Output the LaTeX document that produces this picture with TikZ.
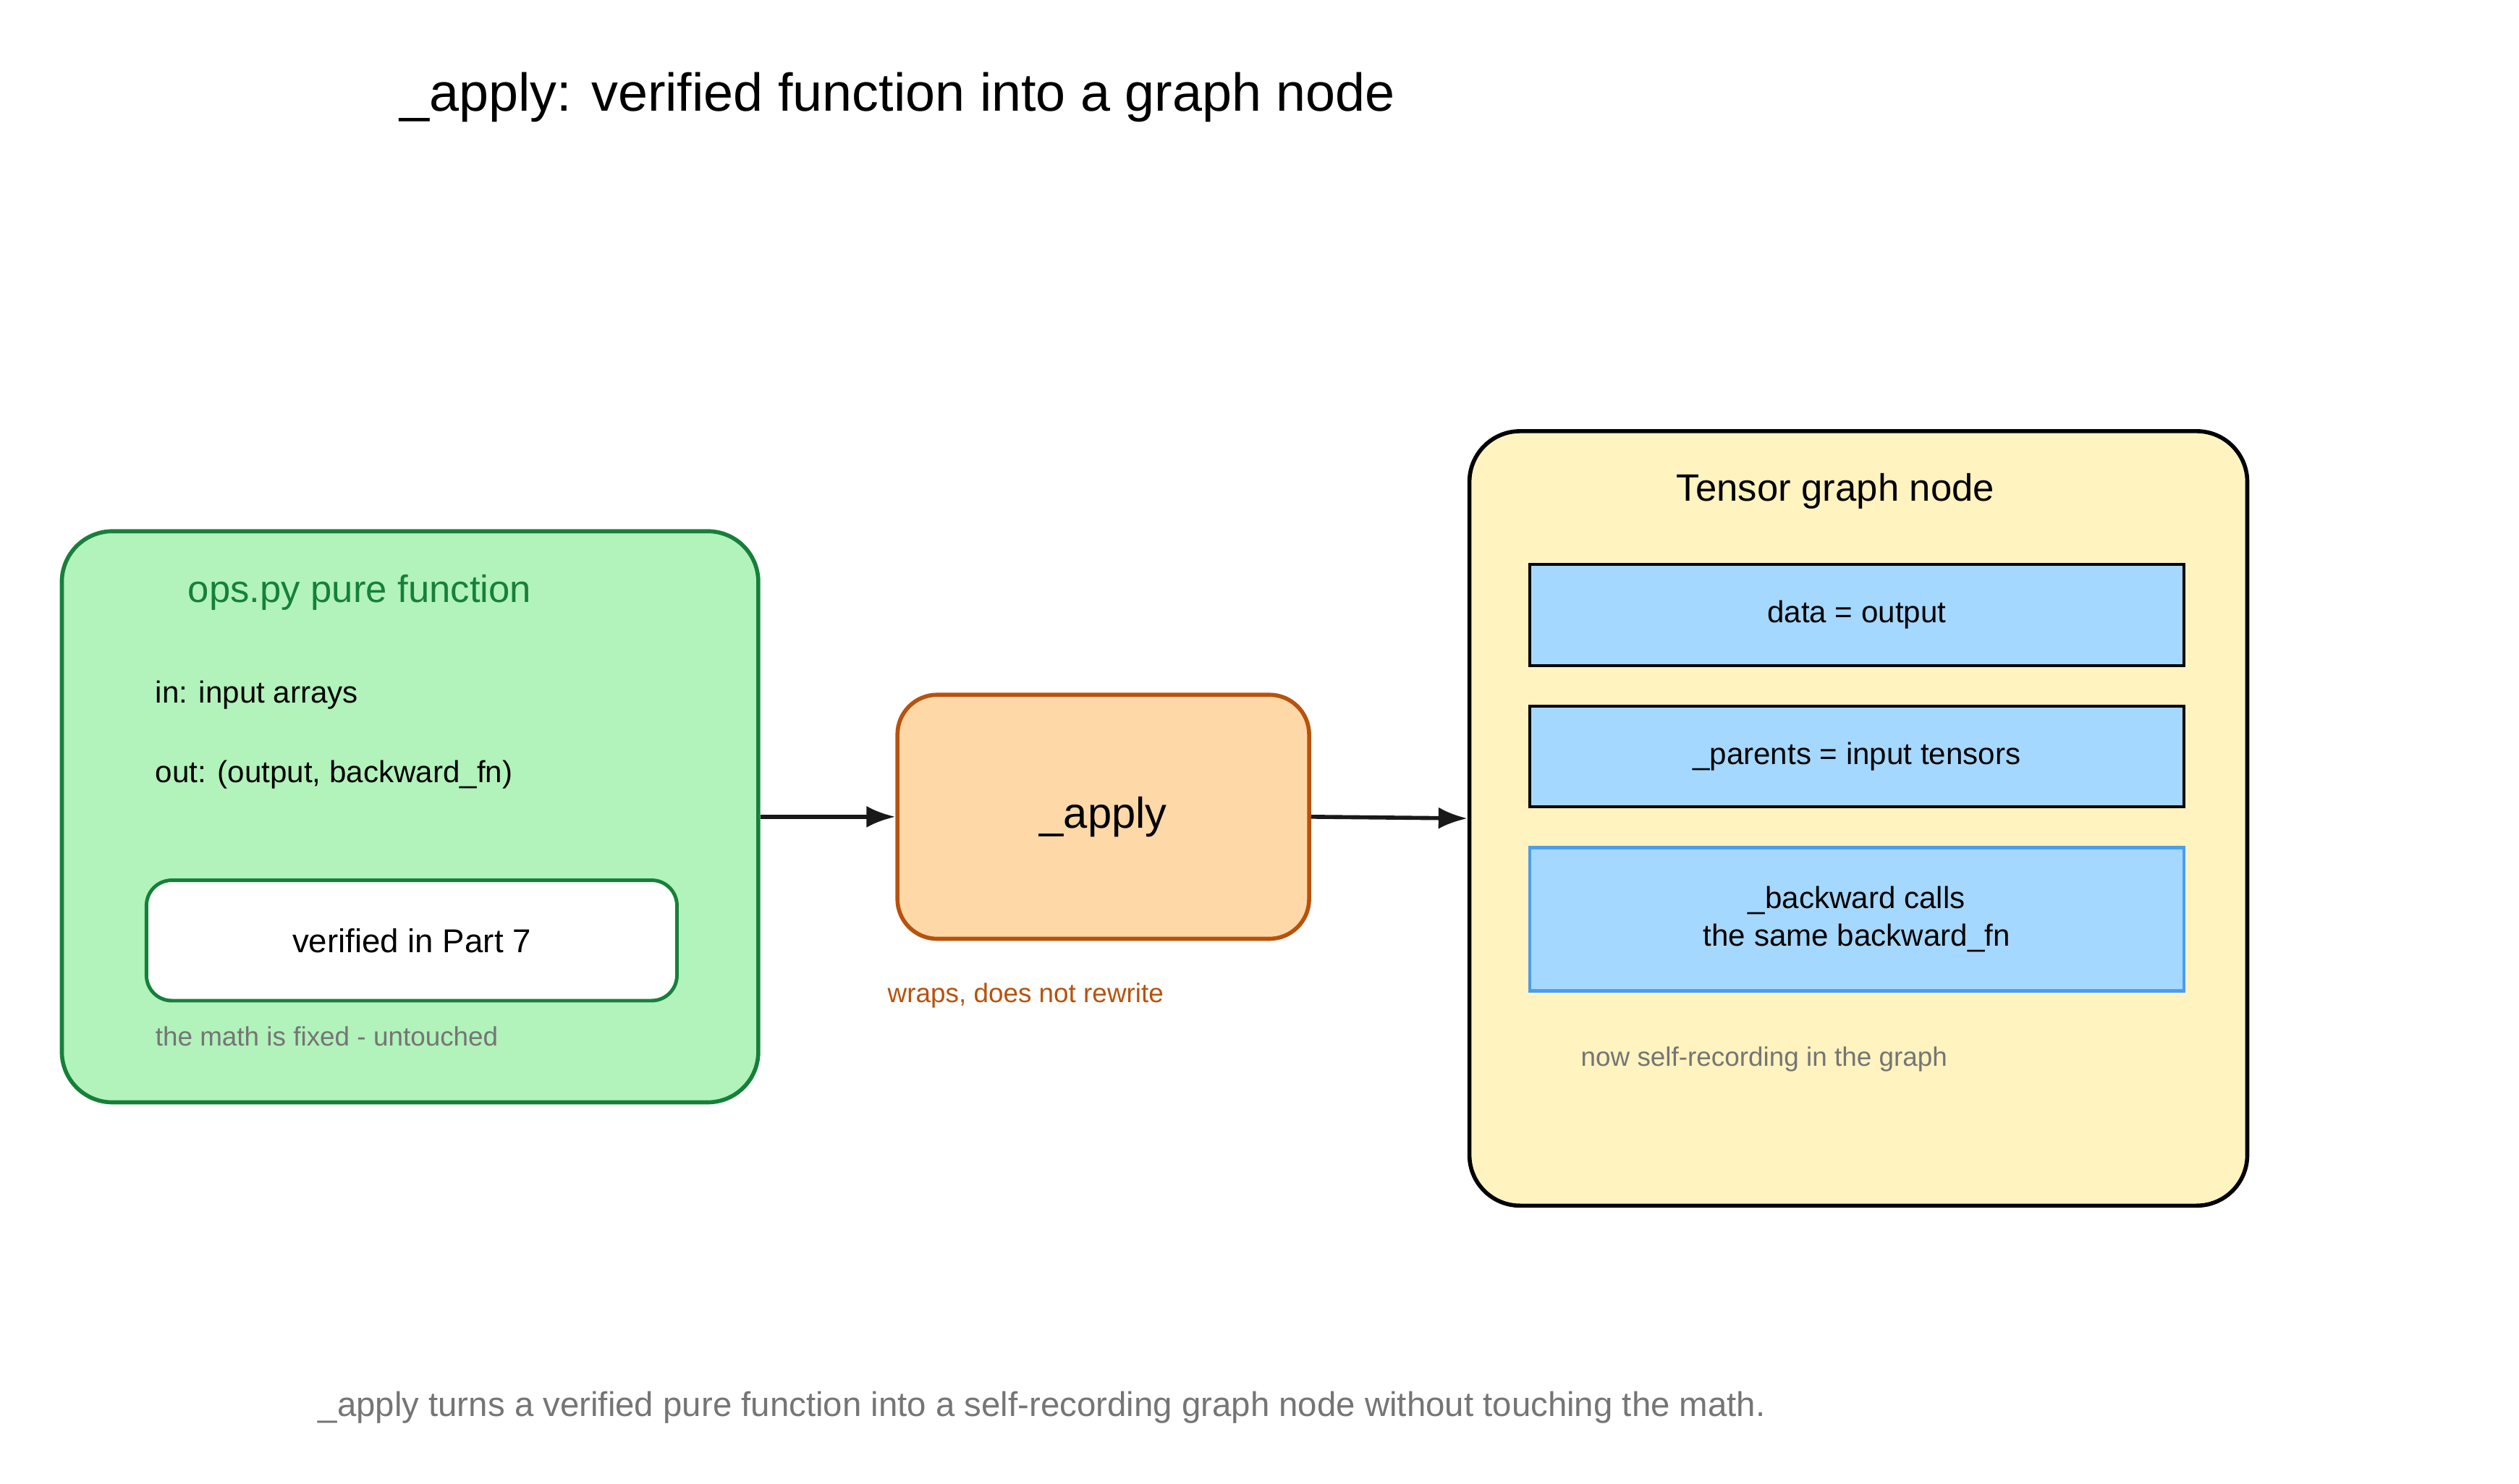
\documentclass[tikz,border=0pt]{standalone}
\usepackage{fontspec}
\setmainfont{Liberation Sans}
\usetikzlibrary{arrows.meta, positioning}
\definecolor{greenfill}{HTML}{B2F2BB}
\definecolor{greenline}{HTML}{16803A}
\definecolor{orangefill}{HTML}{FFD8A8}
\definecolor{orangeline}{HTML}{B8520C}
\definecolor{yellowfill}{HTML}{FFF3BF}
\definecolor{bluefill}{HTML}{A5D8FF}
\definecolor{blueline}{HTML}{4A9EED}
\definecolor{notegray}{HTML}{757575}
\tikzset{
    panel/.style={draw, line width=1.6pt, rounded corners=0.7cm},
    field/.style={draw, line width=1.2pt, fill=bluefill, minimum width=402*0.0225cm, minimum height=62*0.0225cm, font=\fontsize{12}{15}\selectfont, align=center},
    note/.style={anchor=west, text=notegray, font=\fontsize{10.5}{13}\selectfont},
    body/.style={anchor=west, font=\fontsize{12}{15}\selectfont},
    link/.style={-{Latex[length=4mm,width=3mm]}, line width=1.6pt, draw=black!90},
}

\begin{document}
\begin{tikzpicture}[x=0.0225cm, y=-0.0225cm]
    \useasboundingbox (0,0) rectangle (1548,912);

    \node[anchor=west, font=\fontsize{21}{25}\selectfont] (title) at (240,60) {\_apply: verified function into a graph node};

    % pure function
    \node[panel, draw=greenline, fill=greenfill, minimum width=428*0.0225cm, minimum height=351*0.0225cm] (ops) at (252,502) {};
    \node[text=greenline, font=\fontsize{15}{18}\selectfont] (opst) at (221,364) {ops.py pure function};
    \node[body] (in) at (90,427) {in: input arrays};
    \node[body] (out) at (90,476) {out: (output, backward\_fn)};
    \node[draw=greenline, line width=1.4pt, fill=white, rounded corners=0.35cm, minimum width=326*0.0225cm, minimum height=74*0.0225cm, font=\fontsize{13}{16}\selectfont] (ver) at (253,578) {verified in Part 7};
    \node[note] (fixed) at (90,637) {the math is fixed - untouched};

    % wrapper
    \node[panel, draw=orangeline, fill=orangefill, rounded corners=0.55cm, minimum width=253*0.0225cm, minimum height=150*0.0225cm, font=\fontsize{17}{20}\selectfont] (apply) at (678,502) {\_apply};
    \node[note, text=orangeline] (wraps) at (540,612) {wraps, does not rewrite};

    % graph node
    \node[panel, fill=yellowfill, minimum width=478*0.0225cm, minimum height=476*0.0225cm] (tensor) at (1142,503) {};
    \node[font=\fontsize{15}{18}\selectfont] (tt) at (1128,302) {Tensor graph node};
    \node[field] (data) at (1141,378) {data = output};
    \node[field] (par) at (1141,465) {\_parents = input tensors};
    \node[field, draw=blueline, minimum height=88*0.0225cm] (bw) at (1141,565) {\_backward calls\\the same backward\_fn};
    \node[note] (self) at (966,651) {now self-recording in the graph};

    \draw[link] (ops.east) -- (apply.west);
    \draw[link] (apply.east) -- (tensor.west);

    \node[note, font=\fontsize{13.5}{16}\selectfont] (foot) at (190,865) {\_apply turns a verified pure function into a self-recording graph node without touching the math.};
\end{tikzpicture}
\end{document}
